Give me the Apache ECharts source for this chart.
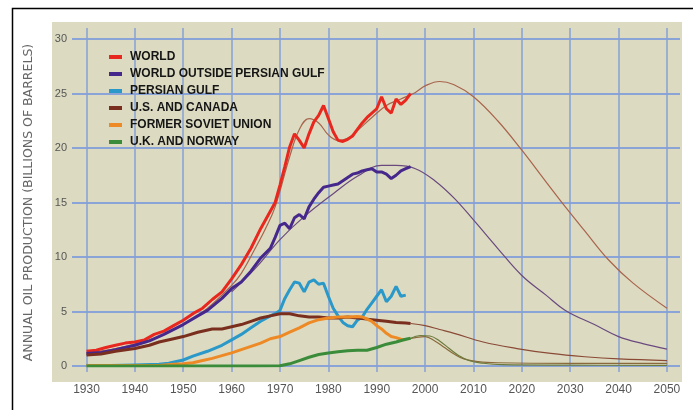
<!DOCTYPE html>
<html><head><meta charset="utf-8">
<script src="https://cdn.jsdelivr.net/npm/echarts/dist/echarts.min.js"></script>
<style>html,body{margin:0;padding:0;background:#fff}#c{width:696px;height:410px}</style>
</head><body><div id="c"></div><script>
// ---- data (year, billions of barrels) ----
const names = ['WORLD','WORLD OUTSIDE PERSIAN GULF','PERSIAN GULF','U.S. AND CANADA','FORMER SOVIET UNION','U.K. AND NORWAY'];
const xTicks = {min:1930, max:2050, step:10};
const yTicks = {min:0, max:30, step:5};

const world = [[1930,1.35],[1932,1.45],[1934,1.7],[1936,1.9],[1938,2.1],[1940,2.2],[1942,2.4],[1944,2.9],[1946,3.2],[1948,3.7],[1950,4.2],[1952,4.8],[1954,5.3],[1956,6.1],[1958,6.8],[1960,8.0],[1962,9.3],[1964,10.8],[1966,12.6],[1968,14.2],[1969,15.0],[1970,16.6],[1971,18.3],[1972,20.1],[1973,21.3],[1974,20.7],[1975,20.0],[1976,21.3],[1977,22.4],[1978,23.0],[1979,23.9],[1980,22.7],[1981,21.5],[1982,20.7],[1983,20.6],[1984,20.8],[1985,21.1],[1986,21.7],[1987,22.3],[1988,22.8],[1989,23.2],[1990,23.6],[1991,24.7],[1992,23.6],[1993,23.2],[1994,24.5],[1995,24.0],[1996,24.4],[1997,25.0]];
const worldFit = [[1930,1.2],[1935,1.5],[1940,2.0],[1945,2.7],[1950,3.8],[1955,5.3],[1960,7.4],[1962,8.5],[1965,10.9],[1967,12.6],[1969,14.6],[1972,19.2],[1974,21.7],[1976,22.7],[1978,22.3],[1980,21.2],[1982,20.7],[1984,20.9],[1986,21.6],[1989,22.8],[1992,23.9],[1995,24.5],[1998,25.1],[2000,25.7],[2003,26.1],[2006,25.8],[2010,24.7],[2015,22.5],[2020,19.8],[2025,16.9],[2029,14.6],[2033,12.4],[2038,9.7],[2043,7.6],[2050,5.3]];
const outside = [[1930,1.15],[1933,1.25],[1936,1.5],[1940,1.9],[1943,2.3],[1946,2.9],[1950,3.8],[1953,4.6],[1955,5.1],[1958,6.2],[1960,7.1],[1962,7.7],[1964,8.7],[1966,9.9],[1968,10.8],[1969,11.8],[1970,12.9],[1971,13.1],[1972,12.6],[1973,13.6],[1974,13.9],[1975,13.5],[1976,14.6],[1977,15.3],[1978,15.9],[1979,16.4],[1980,16.5],[1981,16.6],[1982,16.7],[1983,17.0],[1984,17.3],[1985,17.6],[1986,17.7],[1987,17.9],[1988,18.0],[1989,18.1],[1990,17.8],[1991,17.8],[1992,17.6],[1993,17.2],[1994,17.5],[1995,17.9],[1996,18.1],[1997,18.3]];
const outsideFit = [[1960,6.8],[1965,9.0],[1970,11.6],[1975,13.7],[1981,15.8],[1986,17.4],[1991,18.4],[1994,18.4],[1998,18.1],[2002,17.0],[2006,15.4],[2010,13.4],[2015,10.8],[2020,8.3],[2025,6.5],[2029,5.1],[2035,3.8],[2040,2.7],[2045,2.05],[2050,1.55]];
const persian = [[1930,0.05],[1935,0.05],[1940,0.1],[1945,0.15],[1947,0.25],[1950,0.55],[1952,0.9],[1955,1.35],[1958,1.9],[1960,2.4],[1962,2.9],[1964,3.5],[1966,4.1],[1968,4.6],[1969,4.8],[1970,5.1],[1971,6.2],[1972,7.0],[1973,7.7],[1974,7.6],[1975,6.8],[1976,7.7],[1977,7.9],[1978,7.5],[1979,7.6],[1980,6.4],[1981,5.3],[1982,4.6],[1983,4.0],[1984,3.7],[1985,3.6],[1986,4.2],[1987,4.5],[1988,5.2],[1989,5.8],[1990,6.4],[1991,7.0],[1992,5.9],[1993,6.4],[1994,7.3],[1995,6.4],[1996,6.5]];
const usCanada = [[1930,1.0],[1933,1.1],[1936,1.35],[1940,1.6],[1943,1.9],[1945,2.2],[1948,2.5],[1950,2.7],[1953,3.1],[1956,3.4],[1958,3.4],[1960,3.6],[1962,3.8],[1964,4.1],[1966,4.4],[1968,4.6],[1970,4.8],[1972,4.8],[1974,4.6],[1976,4.5],[1978,4.5],[1980,4.4],[1982,4.4],[1984,4.5],[1986,4.4],[1988,4.3],[1990,4.2],[1992,4.1],[1994,4.0],[1996,3.95],[1997,3.9]];
const usCanadaFit = [[1997,3.9],[2000,3.7],[2003,3.35],[2006,3.0],[2012,2.2],[2019,1.6],[2026,1.15],[2033,0.85],[2040,0.65],[2050,0.5]];
const fsu = [[1930,0.05],[1945,0.05],[1948,0.15],[1950,0.2],[1952,0.3],[1954,0.5],[1956,0.7],[1958,0.95],[1960,1.2],[1962,1.5],[1964,1.8],[1966,2.1],[1968,2.5],[1970,2.7],[1972,3.1],[1974,3.5],[1976,3.95],[1978,4.25],[1980,4.4],[1982,4.5],[1984,4.5],[1986,4.55],[1987,4.5],[1988,4.3],[1989,4.1],[1990,3.7],[1991,3.4],[1992,3.0],[1993,2.7],[1994,2.6],[1995,2.45],[1996,2.4]];
const fsuFit = [[1996,2.4],[1998,2.6],[2000,2.7],[2002,2.3],[2004,1.7],[2006,1.1],[2008,0.65],[2011,0.4],[2015,0.3],[2030,0.25],[2050,0.25]];
const ukNorway = [[1930,0],[1965,0],[1970,0.02],[1972,0.2],[1974,0.5],[1976,0.8],[1978,1.05],[1980,1.2],[1982,1.3],[1984,1.4],[1986,1.45],[1988,1.45],[1990,1.7],[1992,2.0],[1994,2.2],[1996,2.45],[1997,2.55]];
const ukNorwayFit = [[1997,2.55],[1999,2.8],[2001,2.75],[2003,2.3],[2005,1.6],[2007,0.95],[2009,0.5],[2012,0.25],[2016,0.12],[2030,0.08],[2050,0.05]];

const colors = ['#e8281e','#46288c','#2a98c8','#7a2e1e','#ee8a26','#3a8c3a'];
const fitColors = ['#a8644c','#6a4a7e','#2a98c8','#8a4a36','#8a6a3c','#6c7a3c'];

// ---- layout ----
const plotL = 72, plotR = 680, plotT = 39, plotB = 366;
const xMin = 1927, xMax = 2052.7;
const ppy = (plotR - plotL) / (xMax - xMin);
const lab = {l: plotL + (xTicks.min - xMin) * ppy, r: plotL + (xTicks.max - xMin) * ppy};

const chart = echarts.init(document.getElementById('c'));
const thick = (name, data, i) => ({name, type:'line', data, xAxisIndex:0, yAxisIndex:0, color:colors[i], symbol:'none', z:4,
  lineStyle:{width:3, color:colors[i]}});
const thin = (data, i) => ({name:'fit'+i, type:'line', data, xAxisIndex:0, yAxisIndex:0, symbol:'none', smooth:0.4, z:3,
  lineStyle:{width:1.2, color:fitColors[i]}});

chart.setOption({
  animation:false,
  backgroundColor:'#ffffff',
  textStyle:{fontFamily:'Liberation Sans'},
  grid:[
    {left:plotL, right:696-plotR, top:plotT, bottom:410-plotB},
    {left:lab.l, right:696-lab.r, top:28, bottom:38},
    {left:52, right:14, top:22, bottom:28, show:true, backgroundColor:'#dcdbc2', borderWidth:0, z:-1}
  ],
  xAxis:[
    {type:'value', gridIndex:0, min:xMin, max:xMax, show:false},
    {type:'value', gridIndex:1, min:xTicks.min, max:xTicks.max, interval:xTicks.step, z:1,
      axisLine:{show:false}, axisTick:{show:false},
      splitLine:{show:true, lineStyle:{color:'#86a0d6', width:1.5}},
      axisLabel:{color:'#555', fontSize:12, margin:12, formatter:v=>String(v)}},
    {type:'value', gridIndex:2, show:false}
  ],
  yAxis:[
    {type:'value', gridIndex:0, min:yTicks.min, max:yTicks.max, interval:yTicks.step, z:1,
      axisLine:{show:false}, axisTick:{show:false},
      splitLine:{show:true, lineStyle:{color:'#8aa4d8', width:2}},
      axisLabel:{color:'#555', fontSize:11, margin:5},
      name:'ANNUAL OIL PRODUCTION (BILLIONS OF BARRELS)', nameLocation:'middle', nameGap:37,
      nameTextStyle:{color:'#666', fontSize:12.5, fontFamily:'DejaVu Sans'}},
    {type:'value', gridIndex:1, min:0, max:1, show:false},
    {type:'value', gridIndex:2, show:false}
  ],
  legend:{data:names, orient:'vertical', left:104, top:46, itemWidth:13, itemHeight:4, itemGap:5, icon:'rect', selectedMode:false,
    textStyle:{fontSize:12, fontWeight:'bold', color:'#151515', lineHeight:12, padding:[0,0,0,3]}},
  graphic:[{type:'polyline', shape:{points:[[12.5,410],[12.5,8.5],[693,8.5]]}, style:{stroke:'#000', lineWidth:1.5, fill:null}}],
  series:[
    thin(worldFit,0), thin(outsideFit,1), thin(usCanadaFit,3), thin(fsuFit,4), thin(ukNorwayFit,5),
    thick(names[0], world, 0), thick(names[1], outside, 1), thick(names[2], persian, 2),
    thick(names[3], usCanada, 3), thick(names[4], fsu, 4), thick(names[5], ukNorway, 5)
  ]
});
</script></body></html>
